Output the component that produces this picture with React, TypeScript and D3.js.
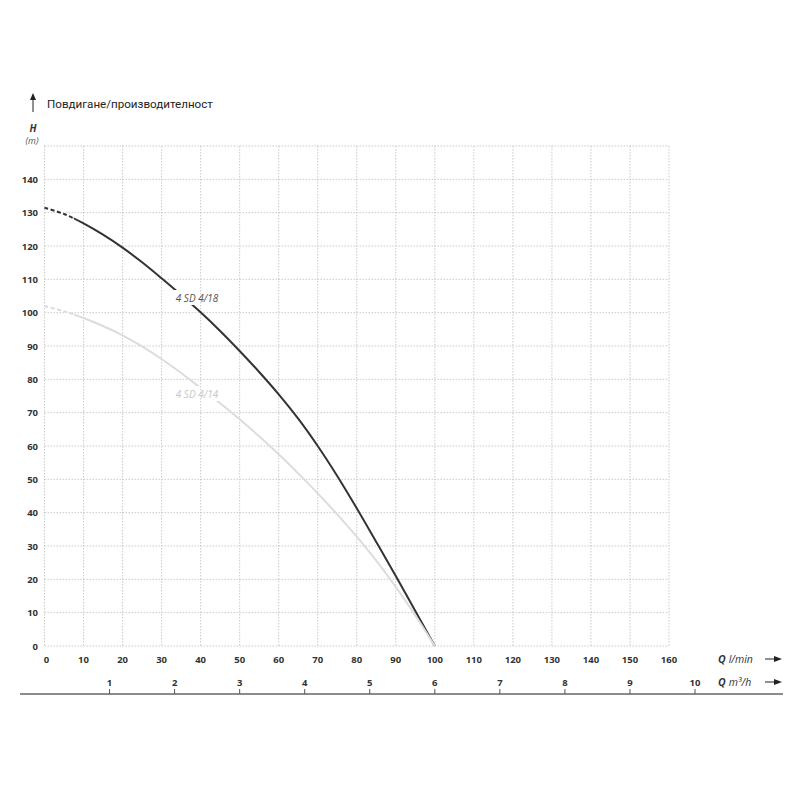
import * as d3 from "d3";

// l/min flow points and head (m)
const flow = [0, 5, 10, 15, 20, 25, 30, 35, 40, 45, 50, 55, 60, 65, 70, 75, 80, 85, 90, 95, 100];
const head418 = [131.5, 129.6, 126.8, 123.4, 119.5, 115.1, 110.3, 105.3, 100.1, 94.5, 88.5, 82.2, 75.5, 68.2, 60, 51, 41.3, 31.2, 21, 10.5, 0];
const head414 = [102, 100.4, 98.4, 96, 93.2, 89.9, 86.1, 81.9, 77.4, 72.8, 68, 62.9, 57.5, 51.8, 45.8, 39.5, 32.8, 25.6, 17.7, 9.2, 0];

const lminTicks = d3.range(0, 161, 10);
const headTicks = d3.range(0, 141, 10);
const headGrid = d3.range(0, 151, 10);
const m3hTicks = [1, 2, 3, 4, 5, 6, 7, 8, 9, 10];

const pumps = [
  { name: "4 SD 4/18", head: head418, color: "#333333", label: "#555555", lx: 197, ly: 302 },
  { name: "4 SD 4/14", head: head414, color: "#dcdcdc", label: "#c8c8c8", lx: 197, ly: 398 },
];

const dashEnd = 7.5; // curves are dashed below this flow

export default function App() {
  const x = d3.scaleLinear().domain([0, 160]).range([44.5, 669]);
  const y = d3.scaleLinear().domain([0, 150]).range([646, 146]);
  const m3 = (v: number) => x((v * 1000) / 60);

  const line = (h: number[]) =>
    d3.line<number>().x((_, i) => x(flow[i])).y((d) => y(d)).curve(d3.curveCatmullRom.alpha(0.5))(h) ?? "";

  const tick = { fontFamily: "'Open Sans', sans-serif", fontSize: 9.5, fontWeight: 700, fill: "#333" };
  const grid = { stroke: "#bdbdbd", strokeWidth: 0.8, strokeDasharray: "1.5 1.5" };

  const arrow = (x0: number, yy: number) => (
    <g>
      <line x1={x0} x2={x0 + 11} y1={yy} y2={yy} stroke="#222" strokeWidth={1} />
      <path d={`M${x0 + 17},${yy} L${x0 + 9},${yy - 3} L${x0 + 9},${yy + 3} Z`} fill="#222" />
    </g>
  );

  return (
    <div style={{ position: "absolute", left: 0, top: 0 }}>
      <svg width={800} height={800} style={{ display: "block", background: "#fff" }}>
        <defs>
          <clipPath id="dashPart">
            <rect x={0} y={0} width={x(dashEnd)} height={800} />
          </clipPath>
          <clipPath id="solidPart">
            <rect x={x(dashEnd)} y={0} width={800} height={800} />
          </clipPath>
          <mask id="labelGap">
            <rect x={0} y={0} width={800} height={800} fill="#fff" />
            {pumps.map((p) => (
              <rect key={p.name} x={p.lx - 24} y={p.ly - 12} width={48} height={15} fill="#000" />
            ))}
          </mask>
        </defs>

        {/* title */}
        <line x1={33} x2={33} y1={112} y2={98} stroke="#222" strokeWidth={1} />
        <path d="M33,93 L30,100 L36,100 Z" fill="#222" />
        <text x={47} y={108} fontFamily="Roboto, sans-serif" fontSize={11.6} fill="#222">
          Повдигане/производителност
        </text>
        <text x={33} y={132} textAnchor="middle" fontFamily="'Open Sans', sans-serif" fontSize={10} fontWeight={700} fontStyle="italic" fill="#333">
          H
        </text>
        <text x={32} y={144} textAnchor="middle" fontFamily="'Open Sans', sans-serif" fontSize={9} fontStyle="italic" fill="#555">
          (m)
        </text>

        {/* grid */}
        {lminTicks.map((t) => (
          <line key={`v${t}`} x1={x(t)} x2={x(t)} y1={y(150)} y2={y(0)} {...grid} />
        ))}
        {headGrid.map((t) => (
          <line key={`h${t}`} x1={x(0)} x2={x(160)} y1={y(t)} y2={y(t)} {...grid} />
        ))}

        {/* curves */}
        <g mask="url(#labelGap)">
          {pumps.map((p) => (
            <g key={p.name}>
              <path d={line(p.head)} fill="none" stroke={p.color} strokeWidth={2} strokeDasharray="4 2.5" clipPath="url(#dashPart)" />
              <path d={line(p.head)} fill="none" stroke={p.color} strokeWidth={2} clipPath="url(#solidPart)" />
            </g>
          ))}
        </g>
        {pumps.map((p) => (
          <text key={p.name} x={p.lx} y={p.ly} textAnchor="middle" fontFamily="'Open Sans', sans-serif" fontSize={10} fontStyle="italic" fill={p.label}>
            {p.name}
          </text>
        ))}

        {/* head axis labels */}
        {headTicks.map((t) => (
          <text key={`yl${t}`} x={38} y={y(t) + 3.5} textAnchor="end" {...tick}>
            {t}
          </text>
        ))}

        {/* l/min axis labels */}
        {lminTicks.map((t) => (
          <text key={`xl${t}`} x={x(t) + (t === 0 ? 2 : 0)} y={663} textAnchor="middle" {...tick}>
            {t}
          </text>
        ))}
        <text x={718} y={663} fontFamily="'Open Sans', sans-serif" fontSize={10.5} fill="#333">
          <tspan fontWeight={700} fontStyle="italic">Q</tspan>
          <tspan fontStyle="italic" dx={3}>l/min</tspan>
        </text>
        {arrow(765, 659)}

        {/* m3/h axis */}
        <line x1={20} x2={783} y1={694} y2={694} stroke="#666" strokeWidth={1.3} />
        {m3hTicks.map((t) => (
          <g key={`m${t}`}>
            <line x1={m3(t)} x2={m3(t)} y1={689} y2={694} stroke="#555" strokeWidth={1} />
            <text x={m3(t)} y={686} textAnchor="middle" {...tick}>
              {t}
            </text>
          </g>
        ))}
        <text x={718} y={686} fontFamily="'Open Sans', sans-serif" fontSize={10.5} fill="#333">
          <tspan fontWeight={700} fontStyle="italic">Q</tspan>
          <tspan fontStyle="italic" dx={3}>m³/h</tspan>
        </text>
        {arrow(765, 682)}
      </svg>
    </div>
  );
}
